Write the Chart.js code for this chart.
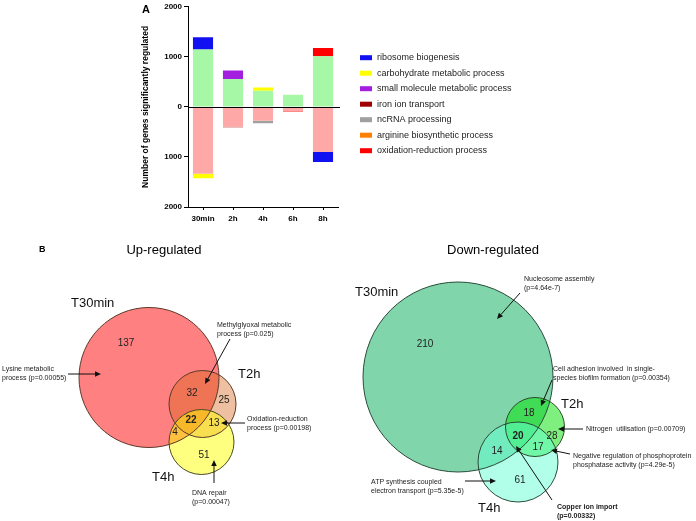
<!DOCTYPE html>
<html><head><meta charset="utf-8">
<script src="https://cdn.jsdelivr.net/npm/chart.js@4/dist/chart.umd.min.js"></script>
<style>
html,body{margin:0;padding:0;background:#fff;}
#wrap{position:relative;width:696px;height:521px;overflow:hidden;background:#fff;}
canvas{position:absolute;left:0;top:0;}
</style></head><body>
<div id="wrap">
<canvas id="bars" width="696" height="232"></canvas>
<canvas id="venn" width="696" height="521"></canvas>
</div>
<script>
// ---------- Panel A data ----------
const timepoints = ['30min', '2h', '4h', '6h', '8h'];
const otherUp = [1145, 556, 325, 245, 1013];
const otherDown = [-1336, -395, -276, -85, -901];
const goTerms = ['ribosome biogenesis', 'carbohydrate metabolic process', 'small molecule metabolic process',
  'iron ion transport', 'ncRNA processing', 'arginine biosynthetic process', 'oxidation-reduction process'];
const ribosomeBiogenesis = [245, 0, 0, 0, -198];
const carbohydrateMetabolic = [-92, 0, 65, 0, 0];
const smallMoleculeMetabolic = [0, 172, 0, 0, 0];
const ironIonTransport = [0, -10, 0, 0, 0];
const ncRNAProcessing = [0, 0, -53, 0, 0];
const arginineBiosynthetic = [0, 0, 0, 0, 0];
const oxidationReduction = [0, 0, 0, -10, 166];
const yTicks = [-2000, -1000, 0, 1000, 2000];

// ---------- Panel B data ----------
const vennSets = ['T30min', 'T2h', 'T4h'];
// regions: T30 only, T30∩T2h, T2h only, all three, T2h∩T4h, T30∩T4h, T4h only
const upCounts = [137, 32, 25, 22, 13, 4, 51];
const downCounts = [210, 18, 28, 20, 17, 14, 61];
const upTerms = [
  ['Lysine metabolic', 'process (p=0.00055)'],
  ['Methylglyoxal metabolic', 'process (p=0.025)'],
  ['Oxidation-reduction', 'process (p=0.00198)'],
  ['DNA repair', '(p=0.00047)']
];
const downTerms = [
  ['Nucleosome assembly', '(p=4.64e-7)'],
  ['Cell adhesion involved  in single-', 'species biofilm formation (p=0.00354)'],
  ['Nitrogen  utilisation (p=0.00709)'],
  ['Negative regulation of phosphoprotein', 'phosphatase activity (p=4.29e-5)'],
  ['ATP synthesis coupled', 'electron transport (p=5.35e-5)'],
  ['Copper ion import', '(p=0.00332)']
];

// ---------- Panel A chart ----------
const FONT = "'Liberation Sans', Arial, sans-serif";
const termColors = ['#1010f0', '#ffff00', '#a41ee0', '#a00000', '#a0a0a0', '#ff8000', '#ff0000'];
const termSeries = [ribosomeBiogenesis, carbohydrateMetabolic, smallMoleculeMetabolic, ironIonTransport,
  ncRNAProcessing, arginineBiosynthetic, oxidationReduction];

const barDatasets = [
  { label: 'other up', data: otherUp, backgroundColor: '#a6f7a6', inLegend: false },
  { label: 'other down', data: otherDown, backgroundColor: '#ffa8a8', inLegend: false }
].concat(goTerms.map((t, i) => ({ label: t, data: termSeries[i], backgroundColor: termColors[i], inLegend: true })));
barDatasets.forEach(d => { d.borderWidth = 0; d.barPercentage = 0.67; d.categoryPercentage = 1.0; });

const panelAPlugin = {
  id: 'panelA',
  afterDatasetsDraw(chart) {
    const ctx = chart.ctx, y = chart.scales.y;
    ctx.save();
    const y0 = Math.round(y.getPixelForValue(0)) + 0.5;
    ctx.strokeStyle = '#000'; ctx.lineWidth = 1;
    ctx.beginPath(); ctx.moveTo(chart.chartArea.left, y0); ctx.lineTo(chart.chartArea.right + 2, y0); ctx.stroke();
    ctx.fillStyle = '#000'; ctx.font = 'bold 11px ' + FONT; ctx.textBaseline = 'middle'; ctx.textAlign = 'left';
    ctx.fillText('A', 142, 10);
    ctx.font = '9px ' + FONT;
    let row = 0;
    chart.data.datasets.forEach(ds => {
      if (!ds.inLegend) return;
      const cy = 57.7 + row * 15.5;
      ctx.fillStyle = ds.backgroundColor;
      ctx.fillRect(360, cy - 2.5, 12, 5);
      ctx.fillStyle = '#222';
      ctx.fillText(ds.label, 377, cy);
      row++;
    });
    ctx.restore();
  }
};

new Chart(document.getElementById('bars'), {
  type: 'bar',
  data: { labels: timepoints, datasets: barDatasets },
  options: {
    responsive: false, animation: false, events: [],
    layout: { padding: { left: 138, right: 358, top: 4, bottom: 0 } },
    plugins: { legend: { display: false }, tooltip: { enabled: false } },
    scales: {
      x: {
        stacked: true, offset: true,
        grid: { display: true, drawOnChartArea: false, drawTicks: true, tickLength: 3, offset: false, color: '#000' },
        border: { display: true, color: '#000', width: 1 },
        ticks: { color: '#000', font: { family: FONT, size: 8, weight: 'bold' }, padding: 4, maxRotation: 0 },
        afterFit: s => { s.height = 25; }
      },
      y: {
        stacked: true, min: yTicks[0], max: yTicks[yTicks.length - 1],
        afterBuildTicks: s => { s.ticks = yTicks.map(v => ({ value: v })); },
        ticks: { color: '#000', font: { family: FONT, size: 8, weight: 'bold' }, padding: 2,
          callback: v => String(Math.abs(v)) },
        grid: { display: true, drawOnChartArea: false, drawTicks: true, tickLength: 4, color: '#000' },
        border: { display: true, color: '#000', width: 1 },
        title: { display: true, text: 'Number of genes significantly regulated', color: '#000',
          font: { family: FONT, size: 8.5, weight: 'bold' }, padding: { top: 3, bottom: 0 } },
        afterFit: s => { s.width = 50; }
      }
    }
  },
  plugins: [panelAPlugin]
});

// ---------- Panel B layout (pixel space) ----------
const circleLayout = {
  up: { x: [149, 202.5, 201.5], y: [377.5, 404, 442], r: [70, 33.5, 32.5],
        fill: ['rgb(255,128,128)', 'rgba(215,95,20,0.4)', 'rgba(255,255,0,0.5)'] },
  down: { x: [458, 535, 518], y: [377, 427, 462], r: [95, 29.5, 40],
        fill: ['rgb(128,214,170)', 'rgba(0,225,0,0.5)', 'rgba(100,255,210,0.5)'] }
};
const countLayout = {
  up: { x: [126, 192, 224, 191, 214, 175, 204], y: [343, 393, 400, 420, 423, 432, 455], bold: 3 },
  down: { x: [425, 529, 552, 518, 538, 497, 520], y: [344, 413, 436, 436, 447, 451, 480], bold: 3 }
};
const setLabelLayout = {
  up: { x: [71, 238, 152], y: [303, 374, 477] },
  down: { x: [355, 561, 478], y: [292, 404, 508] }
};
const termLayout = {
  up: { x: [2, 217, 247, 192], y: [369, 325, 419, 493], bold: [false, false, false, false],
        arrows: [[68, 374, 101, 374], [230, 339, 205, 384], [245, 423, 221, 423], [214, 483, 214, 460]] },
  down: { x: [524, 553, 586, 573, 371, 557], y: [279, 369, 429, 456, 482, 507], bold: [false, false, false, false, false, true],
        arrows: [[520, 293, 497, 319], [552, 380, 541, 406], [583, 429, 558, 429], [570, 454, 551, 450],
                 [465, 481, 496, 481], [552, 500, 516, 446]] }
};

function circlePoints(side) {
  const c = circleLayout[side];
  return c.x.map((x, i) => ({ x: x, y: c.y[i], r: c.r[i] }));
}

const vennPlugin = {
  id: 'vennText',
  afterDatasetsDraw(chart) {
    const ctx = chart.ctx, sx = chart.scales.x, sy = chart.scales.y;
    const px = v => sx.getPixelForValue(v), py = v => sy.getPixelForValue(v);
    ctx.save();
    ctx.fillStyle = '#000'; ctx.textBaseline = 'middle';
    ctx.textAlign = 'left'; ctx.font = 'bold 9px ' + FONT; ctx.fillText('B', px(39), py(250));
    ctx.textAlign = 'center'; ctx.font = '13px ' + FONT;
    ctx.fillText('Up-regulated', px(164), py(250));
    ctx.fillText('Down-regulated', px(493), py(250));
    ['up', 'down'].forEach(side => {
      const L = setLabelLayout[side];
      ctx.textAlign = 'left'; ctx.font = '13px ' + FONT; ctx.fillStyle = '#111';
      vennSets.forEach((s, i) => ctx.fillText(s, px(L.x[i]), py(L.y[i])));
      const C = countLayout[side];
      const counts = side === 'up' ? upCounts : downCounts;
      ctx.textAlign = 'center';
      counts.forEach((n, i) => {
        ctx.font = (i === C.bold ? 'bold ' : '') + '10px ' + FONT;
        ctx.fillStyle = '#222';
        ctx.fillText(String(n), px(C.x[i]), py(C.y[i]));
      });
      const T = termLayout[side];
      const terms = side === 'up' ? upTerms : downTerms;
      ctx.textAlign = 'left';
      terms.forEach((lines, i) => {
        ctx.font = (T.bold[i] ? 'bold ' : '') + '7px ' + FONT;
        ctx.fillStyle = '#222';
        lines.forEach((ln, j) => ctx.fillText(ln, px(T.x[i]), py(T.y[i] + j * 9)));
      });
      ctx.strokeStyle = '#111'; ctx.fillStyle = '#111'; ctx.lineWidth = 1;
      T.arrows.forEach(a => {
        const x1 = px(a[0]), y1 = py(a[1]), x2 = px(a[2]), y2 = py(a[3]);
        const ang = Math.atan2(y2 - y1, x2 - x1);
        const hl = 6, hw = 2.8;
        const bx = x2 - hl * Math.cos(ang), by = y2 - hl * Math.sin(ang);
        ctx.beginPath(); ctx.moveTo(x1, y1); ctx.lineTo(bx, by); ctx.stroke();
        ctx.beginPath();
        ctx.moveTo(x2, y2);
        ctx.lineTo(bx + hw * Math.sin(ang), by - hw * Math.cos(ang));
        ctx.lineTo(bx - hw * Math.sin(ang), by + hw * Math.cos(ang));
        ctx.closePath(); ctx.fill();
      });
    });
    ctx.restore();
  }
};

const allCircles = circlePoints('up').concat(circlePoints('down'));
new Chart(document.getElementById('venn'), {
  type: 'bubble',
  data: {
    datasets: [
      { label: 'outline', data: allCircles, backgroundColor: 'rgba(0,0,0,0)',
        borderColor: ['#5a3a2a', '#5a3a2a', '#4a4a20', '#2a4a3a', '#2a4a2a', '#2a4a3a'], borderWidth: 1, order: 0, clip: false },
      { label: 'fill', data: allCircles, backgroundColor: circleLayout.up.fill.concat(circleLayout.down.fill),
        borderWidth: 0, order: 1, clip: false }
    ]
  },
  options: {
    responsive: false, animation: false, events: [],
    layout: { padding: 0, autoPadding: false },
    plugins: { legend: { display: false }, tooltip: { enabled: false } },
    scales: {
      x: { type: 'linear', min: 0, max: 696, display: false },
      y: { type: 'linear', min: 0, max: 521, reverse: true, display: false }
    }
  },
  plugins: [vennPlugin]
});
</script>
</body></html>
